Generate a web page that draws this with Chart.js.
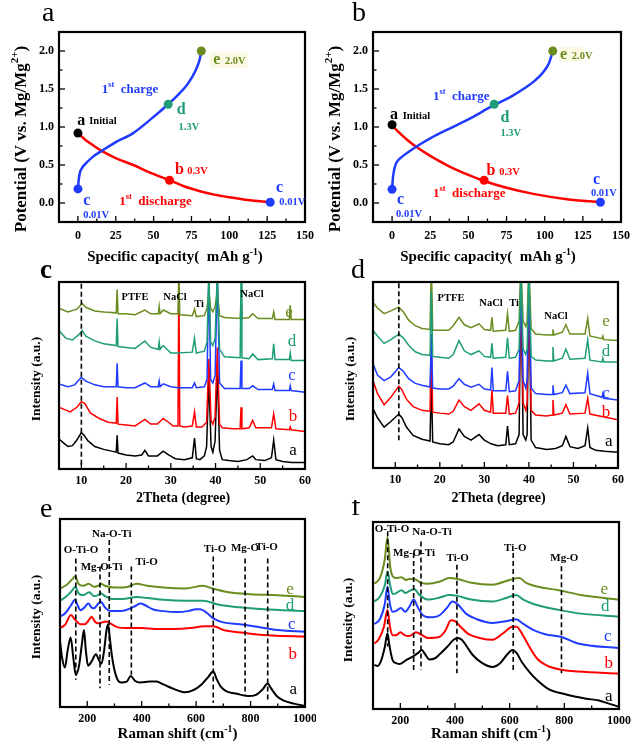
<!DOCTYPE html>
<html><head><meta charset="utf-8">
<script src="https://cdn.jsdelivr.net/npm/chart.js@4/dist/chart.umd.min.js"></script>
<style>
html,body{margin:0;padding:0;background:#fff;}
#wrap{position:relative;width:632px;height:744px;overflow:hidden;background:#fff;}
canvas{position:absolute;}
</style></head><body><div id="wrap"></div>
<script>
const FONT = '"Liberation Serif","Times New Roman",serif';
const COL = {a:'#000000', b:'#ff0000', c:'#1f3bff', d:'#1f9c78', e:'#6b8c1e'};

// ---------- Panel a / b : charge-discharge ----------
const capTicks = [0,25,50,75,100,125,150];
const capMinor = [12.5,37.5,62.5,87.5,112.5,137.5];
const potTicks = [0,0.5,1.0,1.5,2.0];
const potMinor = [0.25,0.75,1.25,1.75];

const a_discharge = [[0,0.92],[5,0.83],[10,0.76],[15.7,0.685],[25,0.59],[36.6,0.50],[47.6,0.40],[60.5,0.30],[70,0.22],[80.6,0.155],[90,0.11],[100,0.075],[112,0.04],[127,0.01]];
const a_charge = [[0,0.185],[0.5,0.30],[1.3,0.40],[3,0.47],[5.7,0.53],[10,0.61],[15.7,0.685],[25,0.80],[36.5,0.92],[48,1.10],[59.6,1.30],[66,1.42],[71.5,1.54],[75.5,1.66],[78.1,1.76],[80.3,1.88],[81.5,2.0]];
const a_marks = [[0,0.92],[60.5,0.30],[127,0.01],[0,0.185],[59.6,1.30],[81.5,2.0]];

const b_discharge = [[0,1.02],[5,0.92],[10,0.83],[15.8,0.74],[25,0.62],[37.7,0.48],[50,0.37],[60.3,0.29],[75,0.20],[92.5,0.12],[114.5,0.05],[136.4,0.01]];
const b_charge = [[0,0.18],[0.5,0.32],[1.2,0.42],[2.6,0.52],[6,0.60],[10,0.66],[15.8,0.74],[25,0.85],[37.7,0.98],[50,1.10],[66.9,1.29],[78,1.40],[86,1.50],[93,1.60],[99,1.72],[103,1.85],[105.3,2.0]];
const b_marks = [[0,1.03],[60.3,0.30],[136.5,0.01],[0,0.18],[66.9,1.30],[105.3,2.0]];
const markColors = [COL.a, COL.b, COL.c, COL.c, COL.d, COL.e];

// ---------- Panel c / d : XRD ----------
const thetaTicks = [10,20,30,40,50,60];
const thetaMinor = [5,15,25,35,45,55];

const c_a = [[5,16],[6,14],[7,12],[8,12.5],[9,15.5],[10,19.5],[10.6,18],[11.5,15],[13,12],[15,10.5],[17.8,9],[18,18],[18.2,8.5],[20,7.5],[22,7],[23.5,7.5],[24.2,10],[25,7],[27,7],[28.3,9.5],[29.5,7.5],[31,5.5],[33,5],[34.8,6],[35.3,16.5],[35.7,5.5],[36.5,5],[37.5,7],[38,12],[38.5,49],[39,12],[39.4,9],[39.9,15],[40.4,54],[40.9,10],[41.5,5],[43,4.5],[45,4],[47,5],[48.3,7],[49,5],[51,4.5],[52.5,6],[53,15.5],[53.5,5],[55,4],[57,3.5],[60,3.5]];
const c_b = [[5,33],[6,32],[7.5,30.5],[9,33],[10,36],[10.8,35],[12,30],[14,27],[16,25],[17.8,24.5],[18,38.5],[18.2,24],[20,23.5],[22,23],[24.2,26.5],[25.5,24],[27,24],[28.3,27],[29.5,25],[30.5,23],[31.6,23],[31.8,105],[32,23],[33,22.5],[34.8,23],[35.3,30.5],[35.7,22.5],[37,22.5],[38,25],[38.5,59],[39,26],[39.4,24],[39.9,28],[40.4,65],[40.9,24],[41.5,22],[44,21.5],[45.5,21.5],[45.7,33],[45.9,21.5],[47.5,22],[48.3,26],[49,22],[52.5,22],[53,29.5],[53.5,21.5],[56.5,21],[56.7,22.5],[56.9,21],[60,20]];
const c_c = [[5,45.5],[7,44],[8.5,45],[10,49],[11,47],[13,45],[15,44],[17.8,44],[18,56.5],[18.2,44],[20,43.5],[22,43.5],[24.2,46],[25.5,44],[27.2,44],[27.4,47],[27.6,44],[28.3,45.5],[30,44],[31.6,43.5],[34.8,43.5],[35.3,46],[35.7,43.5],[37.5,44],[38.1,48],[38.5,105],[38.9,48],[39.4,46],[39.9,50],[40.4,105],[40.9,46],[42,43],[45.5,43],[45.7,58],[45.9,43],[47.5,43],[48.3,44.5],[49.5,42.5],[52.7,42.5],[53,45.5],[53.3,42],[56.5,42],[56.7,44.5],[56.9,42],[60,41]];
const c_d = [[5,74],[6.5,70],[8,69],[9.5,72],[10.2,74],[11,71],[13,68.5],[15,67],[17.8,66],[18,80.5],[18.2,65.5],[20,65],[22,64.5],[24.2,68.5],[25.5,65],[27.2,64],[27.4,68],[27.6,64],[28.3,66],[30,62],[31.6,62],[34.8,62.5],[35.3,70],[35.7,62],[37.5,63],[38.1,68],[38.5,105],[38.9,68],[39.4,66],[39.9,70],[40.4,105],[40.9,64],[42,60],[45.5,59.5],[45.7,105],[45.9,59.5],[47.5,59],[48.3,61.5],[49.5,58.5],[52.7,59],[53,67],[53.3,58.5],[56.5,58.5],[56.7,62],[56.9,58],[60,58]];
const c_e = [[5,86],[7,84],[9,85.5],[10.2,88.5],[11,86.5],[13,84.5],[15,84],[17.8,83.5],[18,96],[18.2,83],[20,83],[22,82.5],[24.2,85],[25.5,83],[27.2,83],[27.4,87],[27.6,83],[28.3,85],[30,83],[31.6,83],[31.8,105],[32,82.5],[34.8,82],[35.3,85.5],[35.7,81.5],[37.5,82],[38.1,86],[38.5,95],[38.9,86],[39.4,84],[39.9,87],[40.4,95],[40.9,82],[42,81],[45.5,80.5],[45.7,88],[45.9,80.5],[47.5,81],[48.3,83],[49.5,80.5],[52.7,80.5],[53,84],[53.3,80],[56.5,80],[56.7,87.5],[56.9,80],[60,80]];

const d_a = [[5,32],[6,27],[7.5,22],[9,25],[10.8,29],[11.5,27],[12.5,22],[14,17.5],[16,15.5],[17.8,14.5],[18.1,48],[18.4,14],[20,13],[22,12.5],[23,14],[24.3,21],[25.5,17],[27,15],[28.8,18],[30,15],[31.5,13],[33,12],[34.8,12.5],[35.2,22.5],[35.6,12.5],[37,13],[37.8,18],[38.2,105],[38.7,18],[39.3,15],[39.6,18],[40.0,105],[40.5,15],[41.5,11],[44,10],[46,10.5],[47.5,12],[48.3,17],[49.2,11.5],[51,10.5],[52.6,12],[53.2,21.5],[53.7,11],[55,9.5],[57,9],[60,8.5]];
const d_b = [[5,47],[6,40],[7.5,34],[9,38],[10.8,44],[11.5,42],[12.5,37],[14,33],[16,31],[17.8,30.5],[18.1,68],[18.4,30],[20,29.5],[22,29],[23,30.5],[24.3,36.5],[25.5,33],[27,31],[28.8,34.5],[30,31],[31.4,30],[31.7,42],[32,29.5],[34.8,29.5],[35.2,39],[35.6,29],[37,29.5],[37.8,35],[38.2,105],[38.7,35],[39.3,31],[39.6,35],[40.0,105],[40.5,31],[41.5,28.5],[44,28],[45.2,28.5],[45.4,36.5],[45.6,28.5],[47.5,29.5],[48.3,34],[49.2,29],[52.6,29.5],[53.2,37.5],[53.7,29],[56.6,27.5],[60,26]];
const d_c = [[5,56],[6,50],[7.5,47],[9,49],[10.8,54],[11.8,52],[13,48],[14.5,45.5],[16,44.5],[17.8,43.5],[18.1,72],[18.4,43],[20,42.5],[22,42.5],[23,44],[24.3,48],[25.5,45],[27,43.5],[28.8,45],[30,42.5],[31.4,42],[31.7,54],[32,41.5],[34.8,41.5],[35.2,52],[35.6,41],[37,41.5],[37.8,47],[38.2,105],[38.7,47],[39.3,43],[39.6,47],[40.0,105],[40.5,43],[41.5,40],[44,39.5],[45.2,39.5],[45.4,44.5],[45.6,39.5],[47.5,40.5],[48.3,44.5],[49.2,40],[52.6,40.5],[53.2,51],[53.7,40],[56.4,38],[56.6,40],[56.8,37.5],[60,36.5]];
const d_d = [[5,74],[6,71],[7.5,67],[9,69],[10.8,72],[11.8,70],[13,66],[14.5,62.5],[16,61],[17.8,60.5],[18.1,95],[18.4,60],[20,59.5],[22,59],[23,61],[24.3,68.5],[25.5,63],[27,61],[28.8,63],[30,60],[31.4,59.5],[31.7,67],[32,59],[34.8,59.5],[35.2,70],[35.6,59],[37,59.5],[37.8,64],[38.2,105],[38.7,64],[39.3,61],[39.6,64],[40.0,105],[40.5,60],[41.5,58],[44,57.5],[45.2,57.5],[45.4,65],[45.6,57.5],[47.5,59],[48.3,64],[49.2,58.5],[52.6,59],[53.2,69],[53.7,58],[56.4,57],[56.6,59],[56.8,57],[60,57]];
const d_e = [[5,89],[6,86],[7.5,83],[9,84.5],[10.8,86.5],[11.8,84],[13,79.5],[14.5,76.5],[16,75],[17.8,74.5],[18.1,110],[18.4,74],[20,74],[22,74],[23,76.5],[24.3,81],[25.5,77],[27,75.5],[28.8,77.5],[30,74.5],[31.4,74],[31.7,81],[32,73.5],[34.8,74],[35.2,83],[35.6,73.5],[37,74],[37.8,79],[38.2,110],[38.7,79],[39.3,76],[39.6,79],[40.0,110],[40.5,75],[41.5,72],[44,71.5],[45.2,71.5],[45.4,74.5],[45.6,71.5],[47.5,73],[48.3,77],[49.2,72],[52.6,72],[53.2,80.5],[53.7,71],[56.4,69.5],[56.6,71],[56.8,69],[60,68.5]];

// ---------- Panel e / f : Raman ----------
const ramanTicks = [200,400,600,800,1000];
const ramanMinor = [100,300,500,700,900];

const e_a = [[100,35],[108,26],[118,21],[128,30],[139,37],[149,26],[158,17],[170,22],[180,33],[188,41],[195,30],[203,22],[215,24],[232,28],[243,25],[252,23],[262,30],[270,40],[276,44],[282,38],[290,28],[298,21],[310,15],[325,13],[345,13.5],[360,16.5],[375,14],[395,13],[430,13.5],[455,13.5],[480,12],[520,9.5],[560,7.8],[590,9],[620,12],[645,16],[663,19],[675,15],[690,11],[710,8.5],[750,7],[790,5.8],[820,6.5],[845,9.5],[863,12.5],[875,10],[895,6],[920,3.5],[960,1.8],[1000,0.5]];
const e_b = [[100,42],[120,44],[140,49],[155,46.5],[175,44],[191,44],[205,46],[216,48],[228,45.5],[240,44.5],[255,45],[270,45.5],[285,44.5],[310,42.5],[350,42],[400,42],[450,41.5],[520,41.5],[580,42],[630,43],[663,43],[700,41],[740,40],[800,39],[880,38],[1000,37.5]];
const e_c = [[100,48],[120,50],[140,54],[155,57],[165,54],[175,51.5],[190,53],[204,55],[215,53],[225,52.5],[238,54.5],[250,56],[265,53],[285,51],[300,51],[340,51.5],[380,54],[395,55],[415,54],[440,52],[480,51],[530,50.5],[570,51],[600,52],[615,52],[640,50],[665,47],[700,45],[760,44],[810,43],[900,41],[1000,40]];
const e_d = [[100,56.5],[125,59],[145,62],[156,64],[168,60.5],[185,59.5],[207,61],[225,59],[240,59.5],[250,60.5],[265,59],[290,57.5],[330,57.5],[381,58.5],[420,58],[480,57],[560,56.5],[626,56.5],[680,54.5],[760,53],[850,52],[1000,51]];
const e_e = [[100,63],[125,65],[145,68],[156,69.5],[168,65.5],[185,64.5],[205,65.5],[225,64],[240,64.5],[250,65.5],[265,64.5],[300,63.5],[350,64],[381,65.5],[420,64.5],[480,63.5],[560,63],[626,64.5],[660,63],[720,61],[800,60],[900,59.5],[1000,58.5]];
const e_bands = [[158,79,14.5],[247,74.7,10],[281,88.8,11.9],[362,74.7,17.2],[663,80,2.1],[780,79,5.7],[863,79,3.9]];

const f_a = [[105,23.5],[117,23],[130,26],[143,33],[153,40.5],[160,34],[172,26],[185,24.5],[196,24],[220,26],[245,28],[265,30],[278,31.5],[292,29],[306,26.5],[325,27],[342,29],[370,33],[395,37],[410,38],[425,37],[445,33],[464,29],[500,24.5],[537,22.5],[565,24.5],[590,29],[610,31.5],[625,30],[645,25],[671,20],[700,15.5],[744,10.5],[800,8],[842,6.5],[880,5.5],[927,4.5],[960,3],[1000,1.2]];
const f_b = [[105,35],[120,37],[140,44],[153,53],[162,44],[172,39.5],[185,39.5],[200,41],[215,39.5],[233,39],[257,41],[280,39.5],[300,38],[342,38.5],[365,42],[385,47.5],[400,47],[420,44],[450,40],[490,38],[537,37],[580,41],[610,44],[625,44],[650,39],[671,33.5],[700,27],[740,23],[790,21],[850,20],[1000,19]];
const f_c = [[105,45.5],[125,48],[143,56],[153,65.5],[162,56],[172,52],[185,52.5],[202,54],[218,52],[232,54.5],[249,58.5],[262,55],[280,50.5],[306,49],[342,50],[370,54],[391,57.5],[410,56],[440,51],[480,48],[537,46],[590,47],[623,48],[650,45.5],[690,42],[730,40],[790,38.5],[850,35],[1000,32.5]];
const f_d = [[105,57.5],[125,60],[143,66],[153,73.5],[163,66],[172,61.5],[185,62],[204,63.5],[220,62],[232,63],[251,64],[270,61],[300,58.5],[342,59.5],[379,61],[410,60.5],[460,58.5],[537,57.5],[590,59.5],[623,61],[650,58.5],[690,56],[780,53],[860,51],[1000,49.5]];
const f_e = [[105,67],[125,70],[143,80],[153,92],[163,76],[172,71],[185,70],[204,70.5],[220,69],[232,69.5],[251,69.5],[275,67.5],[300,67],[342,68],[379,70],[410,69.5],[460,67.5],[537,66.5],[600,69],[635,70],[660,67.5],[700,65.5],[780,63.5],[860,61],[1000,58.5]];
const f_bands = [[153.7,95,33.4],[248.7,83.4,20.9],[275.5,89.6,20.9],[407,77.1,19.1],[613,83.4,20.9],[789.5,76.3,19.1]];

// ---------- helpers ----------
const wrap = document.getElementById('wrap');
function pts(arr){ return arr.map(p=>({x:p[0], y:p[1]})); }
function line(arr, color, lw, order, smooth){
  return {data:pts(arr), borderColor:color, borderWidth:lw, pointRadius:0, fill:false,
          tension: smooth?0.4:0, cubicInterpolationMode: smooth?'monotone':'default', order:order};
}
function marks(arr){
  return {data:pts(arr), showLine:false, pointRadius:4.5, pointBackgroundColor:markColors,
          pointBorderColor:markColors, pointBorderWidth:0, order:-1};
}
function S(t){ return typeof t==='string' ? [[t,'']] : t; }
function T(s,x,y,size,color,o){ return Object.assign({s:S(s),x:x,y:y,size:size,c:color||'#000'}, o||{}); }

function drawRich(ctx, t, x, y){
  const w8 = t.w || 'bold';
  ctx.save();
  ctx.translate(x,y);
  if(t.rot) ctx.rotate(t.rot);
  let tot=0;
  const parts = t.s.map(p=>{
    const sup = p[1]==='sup';
    const fs = sup ? t.size*0.65 : t.size;
    ctx.font = w8+' '+fs+'px '+FONT;
    const m = ctx.measureText(p[0]).width;
    tot += m;
    return {txt:p[0], fs:fs, sup:sup, m:m};
  });
  let cx = t.align==='center' ? -tot/2 : (t.align==='right' ? -tot : 0);
  ctx.fillStyle = t.c;
  ctx.textAlign = 'left';
  ctx.textBaseline = t.base || 'alphabetic';
  parts.forEach(p=>{
    ctx.font = w8+' '+p.fs+'px '+FONT;
    ctx.fillText(p.txt, cx, p.sup ? -t.size*0.42 : 0);
    cx += p.m;
  });
  ctx.restore();
}

function makeDeco(cfg){
  return {
    id:'deco',
    beforeDatasetsDraw(chart){
      const ctx=chart.ctx, xs=chart.scales.x, ys=chart.scales.y;
      (cfg.rects||[]).forEach(r=>{
        const x0=xs.getPixelForValue(r[0]), x1=xs.getPixelForValue(r[1]);
        const y0=ys.getPixelForValue(r[2]), y1=ys.getPixelForValue(r[3]);
        ctx.save(); ctx.fillStyle=r[4]; ctx.fillRect(x0,y0,x1-x0,y1-y0); ctx.restore();
      });
    },
    afterDatasetsDraw(chart){
      const ctx=chart.ctx, ca=chart.chartArea, xs=chart.scales.x, ys=chart.scales.y;
      ctx.save();
      ctx.strokeStyle='#000';
      (cfg.dashes||[]).forEach(d=>{
        const px = xs.getPixelForValue(d[0]);
        ctx.beginPath(); ctx.setLineDash([5,3]); ctx.lineWidth=1.6;
        ctx.moveTo(px, ys.getPixelForValue(d[1])); ctx.lineTo(px, ys.getPixelForValue(d[2])); ctx.stroke();
      });
      ctx.setLineDash([]);
      ctx.lineWidth=1.3;
      const tk = (vals, len, axis)=>{
        (vals||[]).forEach(v=>{
          ctx.beginPath();
          if(axis==='x'){ const p=xs.getPixelForValue(v); ctx.moveTo(p,ca.bottom); ctx.lineTo(p,ca.bottom-len); }
          else { const p=ys.getPixelForValue(v); ctx.moveTo(ca.left,p); ctx.lineTo(ca.left+len,p); }
          ctx.stroke();
        });
      };
      tk(cfg.xMajor,6,'x'); tk(cfg.xMinor,3.5,'x'); tk(cfg.yMajor,6,'y'); tk(cfg.yMinor,3.5,'y');
      ctx.lineWidth=2.2;
      ctx.strokeRect(ca.left, ca.top, ca.right-ca.left, ca.bottom-ca.top);
      ctx.restore();
      (cfg.texts||[]).forEach(t=>{
        let x=t.x, y=t.y;
        if(t.d){ x=xs.getPixelForValue(t.x); y=ys.getPixelForValue(t.y); }
        drawRich(ctx, t, x, y);
      });
    }
  };
}

function panel(rect, area, o){
  const cv=document.createElement('canvas');
  cv.width=rect.w; cv.height=rect.h;
  cv.style.left=rect.l+'px'; cv.style.top=rect.t+'px';
  cv.style.width=rect.w+'px'; cv.style.height=rect.h+'px';
  wrap.appendChild(cv);
  const tickFont={family:FONT, weight:'bold', size:12};
  const noPad = s=>{ s.paddingLeft=0; s.paddingRight=0; s.paddingTop=0; s.paddingBottom=0; };
  return new Chart(cv.getContext('2d'), {
    type:'line',
    data:{datasets:o.datasets},
    options:{
      responsive:false, animation:false, devicePixelRatio:1,
      layout:{padding:{left:0, top:area.t, right:rect.w-area.r, bottom:0}},
      plugins:{legend:{display:false}, tooltip:{enabled:false}},
      scales:{
        x:{type:'linear', min:o.x[0], max:o.x[1],
           grid:{display:false, drawTicks:false}, border:{display:false},
           ticks:{display:true, font:tickFont, color:'#000', padding:o.xPad||6, autoSkip:false, maxRotation:0,
                  callback:v=>String(v)},
           afterBuildTicks:s=>{ s.ticks=o.xTicks.map(v=>({value:v})); },
           afterFit:s=>{ s.height=rect.h-area.b; noPad(s); }},
        y:{type:'linear', min:o.y[0], max:o.y[1],
           grid:{display:false, drawTicks:false}, border:{display:false},
           ticks:{display:!!o.yTicks, font:tickFont, color:'#000', padding:5, autoSkip:false,
                  callback:v=>Number(v).toFixed(1)},
           afterBuildTicks:s=>{ s.ticks=(o.yTicks||[]).map(v=>({value:v})); },
           afterFit:s=>{ s.width=area.l; noPad(s); }}
      }
    },
    plugins:[makeDeco(o.deco)]
  });
}

const ROT = -Math.PI/2;
const potTitle = [['Potential (V vs. Mg/Mg',''],['2+','sup'],[')','']];
const capTitle = [['Specific capacity(  mAh g',''],['-1','sup'],[')','']];
const ramanTitle = [['Raman shift (cm',''],['-1','sup'],[')','']];
const first = (w)=>[['1',''],['st','sup'],['  '+w,'']];

// ---------- Panel a ----------
panel({l:0,t:0,w:316,h:270},{l:59,t:32,r:305,b:222},{
  x:[-12.5,150], y:[-0.25,2.25], xTicks:capTicks, yTicks:potTicks, xPad:7,
  datasets:[ marks(a_marks), line(a_charge,COL.c,2.5,1,true), line(a_discharge,COL.b,2.5,2,true) ],
  deco:{ xMajor:capTicks, xMinor:capMinor, yMajor:potTicks, yMinor:potMinor,
    rects:[[87,112,1.98,1.78,'#fbf8e4']],
    texts:[
      T('a',42,21,28,'#000',{w:'normal'}),
      T(potTitle,22,139,17,'#000',{align:'center',rot:ROT,base:'middle'}),
      T(capTitle,175,261,15,'#000',{align:'center'}),
      T('a',-0.5,1.03,16,COL.a,{d:true}), T('Initial',7.5,1.045,10.5,COL.a,{d:true}),
      T('b',64.1,0.38,16,COL.b,{d:true}), T('0.3V',72.2,0.38,10.5,COL.b,{d:true}),
      T('c',130.9,0.14,16,COL.c,{d:true}), T('0.01V',133,-0.03,10.5,COL.c,{d:true}),
      T('c',3.5,-0.03,16,COL.c,{d:true}), T('0.01V',3.5,-0.2,10.5,COL.c,{d:true}),
      T('d',65.2,1.165,16,COL.d,{d:true}), T('1.3V',66.5,0.967,10.5,COL.d,{d:true}),
      T('e',89.4,1.83,16,COL.e,{d:true}), T('2.0V',97.1,1.83,10.5,COL.e,{d:true}),
      T(first('charge'),15.7,1.45,13,COL.c,{d:true}),
      T(first('discharge'),27.3,-0.02,13,COL.b,{d:true})
    ]}
});

// ---------- Panel b ----------
panel({l:316,t:0,w:316,h:270},{l:57,t:32,r:305,b:222},{
  x:[-12.5,150], y:[-0.25,2.25], xTicks:capTicks, yTicks:potTicks, xPad:7,
  datasets:[ marks(b_marks), line(b_charge,COL.c,2.5,1,true), line(b_discharge,COL.b,2.5,2,true) ],
  deco:{ xMajor:capTicks, xMinor:capMinor, yMajor:potTicks, yMinor:potMinor,
    rects:[[109,125.5,2.05,1.86,'#fbf8e4']],
    texts:[
      T('b',36,21,28,'#000',{w:'normal'}),
      T(potTitle,20,139,17,'#000',{align:'center',rot:ROT,base:'middle'}),
      T(capTitle,172,261,15,'#000',{align:'center'}),
      T('a',-1.3,1.10,16,COL.a,{d:true}), T('Initial',7,1.10,10.5,COL.a,{d:true}),
      T('b',61.8,0.365,16,COL.b,{d:true}), T('0.3V',70.2,0.365,10.5,COL.b,{d:true}),
      T('c',131.6,0.255,16,COL.c,{d:true}), T('0.01V',130.3,0.09,10.5,COL.c,{d:true}),
      T('c',3.3,-0.01,16,COL.c,{d:true}), T('0.01V',2.6,-0.18,10.5,COL.c,{d:true}),
      T('d',71,1.06,16,COL.d,{d:true}), T('1.3V',71,0.88,10.5,COL.d,{d:true}),
      T('e',110,1.89,16,COL.e,{d:true}), T('2.0V',117.8,1.89,10.5,COL.e,{d:true}),
      T(first('charge'),26.8,1.36,13,COL.c,{d:true}),
      T(first('discharge'),26.8,0.08,13,COL.b,{d:true})
    ]}
});

// ---------- Panel c ----------
const xrdLW = 1.5;
panel({l:0,t:250,w:316,h:260},{l:59,t:32,r:305,b:219},{
  x:[5,60], y:[0,100], xTicks:thetaTicks, xPad:5,
  datasets:[ line(c_d,COL.d,xrdLW,0), line(c_e,COL.e,xrdLW,1), line(c_c,COL.c,xrdLW,2), line(c_b,COL.b,xrdLW,3), line(c_a,COL.a,xrdLW,4) ],
  deco:{ xMajor:thetaTicks, xMinor:thetaMinor, dashes:[[10,99,1.2]],
    texts:[
      T('c',40,28,27,'#000',{w:'bold'}),
      T('Intensity (a.u.)',37,129,13.5,'#000',{align:'center',rot:ROT,base:'middle'}),
      T('2Theta (degree)',183,252,14,'#000',{align:'center'}),
      T('PTFE',135,47,10.5,'#000',{align:'center',base:'middle'}),
      T('NaCl',175,47,10.5,'#000',{align:'center',base:'middle'}),
      T('Ti',199,54,10.5,'#000',{align:'center',base:'middle'}),
      T('NaCl',252,44,10.5,'#000',{align:'center',base:'middle'}),
      T('e',289,63,17,COL.e,{w:'normal',align:'center',base:'middle'}),
      T('d',292,92,17,COL.d,{w:'normal',align:'center',base:'middle'}),
      T('c',292,126,17,COL.c,{w:'normal',align:'center',base:'middle'}),
      T('b',293,167,17,COL.b,{w:'normal',align:'center',base:'middle'}),
      T('a',293,201,17,COL.a,{w:'normal',align:'center',base:'middle'})
    ]}
});

// ---------- Panel d ----------
panel({l:316,t:250,w:316,h:260},{l:57,t:32,r:302,b:218},{
  x:[5,60], y:[0,100], xTicks:thetaTicks, xPad:5,
  datasets:[ line(d_d,COL.d,xrdLW,0), line(d_e,COL.e,xrdLW,1), line(d_c,COL.c,xrdLW,2), line(d_b,COL.b,xrdLW,3), line(d_a,COL.a,xrdLW,4) ],
  deco:{ xMajor:thetaTicks, xMinor:thetaMinor, dashes:[[10.8,99.3,14.2]],
    texts:[
      T('d',35,28,28,'#000',{w:'normal'}),
      T('Intensity (a.u.)',35,129,13.5,'#000',{align:'center',rot:ROT,base:'middle'}),
      T('2Theta (degree)',182.5,252,14,'#000',{align:'center'}),
      T('PTFE',135,48,10.5,'#000',{align:'center',base:'middle'}),
      T('NaCl',175,53,10.5,'#000',{align:'center',base:'middle'}),
      T('Ti',198,53,10.5,'#000',{align:'center',base:'middle'}),
      T('NaCl',240,66,10.5,'#000',{align:'center',base:'middle'}),
      T('e',290,72,17,COL.e,{w:'normal',align:'center',base:'middle'}),
      T('d',290,102,17,COL.d,{w:'normal',align:'center',base:'middle'}),
      T('c',290,144,17,COL.c,{w:'normal',align:'center',base:'middle'}),
      T('b',290,163,17,COL.b,{w:'normal',align:'center',base:'middle'}),
      T('a',292.7,192,17,COL.a,{w:'normal',align:'center',base:'middle'})
    ]}
});

// ---------- Panel e ----------
const ramLW = 2;
panel({l:0,t:500,w:316,h:244},{l:60,t:19,r:305,b:207},{
  x:[100,1000], y:[0,100], xTicks:ramanTicks, xPad:5,
  datasets:[ line(e_e,COL.e,ramLW,0,true), line(e_d,COL.d,ramLW,1,true), line(e_c,COL.c,ramLW,2,true), line(e_b,COL.b,ramLW,3,true), line(e_a,COL.a,ramLW,4,true) ],
  deco:{ xMajor:ramanTicks, xMinor:ramanMinor, dashes:e_bands,
    texts:[
      T('e',40,17,28,'#000',{w:'normal'}),
      T('Intensity (a.u.)',37,117,13.5,'#000',{align:'center',rot:ROT,base:'middle'}),
      T(ramanTitle,177.5,238,15,'#000',{align:'center'}),
      T('O-Ti-O',81,50,11,'#000',{align:'center',base:'middle'}),
      T('Na-O-Ti',111.7,34.3,11,'#000',{align:'center',base:'middle'}),
      T('Mg-O-Ti',101.7,66.7,11,'#000',{align:'center',base:'middle'}),
      T('Ti-O',146.7,62,11,'#000',{align:'center',base:'middle'}),
      T('Ti-O',215,49.3,11,'#000',{align:'center',base:'middle'}),
      T('Mg-O',245,48.3,11,'#000',{align:'center',base:'middle'}),
      T('Ti-O',266.7,46.7,11,'#000',{align:'center',base:'middle'}),
      T('e',290,90,17,COL.e,{w:'normal',align:'center',base:'middle'}),
      T('d',290,106,17,COL.d,{w:'normal',align:'center',base:'middle'}),
      T('c',291.7,124.3,17,COL.c,{w:'normal',align:'center',base:'middle'}),
      T('b',292.7,155,17,COL.b,{w:'normal',align:'center',base:'middle'}),
      T('a',293.3,189.3,17,COL.a,{w:'normal',align:'center',base:'middle'})
    ]}
});

// ---------- Panel f ----------
panel({l:316,t:500,w:316,h:244},{l:57,t:22,r:303,b:209},{
  x:[100,1000], y:[0,100], xTicks:ramanTicks, xPad:5,
  datasets:[ line(f_e,COL.e,ramLW,0,true), line(f_d,COL.d,ramLW,1,true), line(f_c,COL.c,ramLW,2,true), line(f_b,COL.b,ramLW,3,true), line(f_a,COL.a,ramLW,4,true) ],
  deco:{ xMajor:ramanTicks, xMinor:ramanMinor, dashes:f_bands,
    texts:[
      T('f',35,15,28,'#000',{w:'normal'}),
      T('Intensity (a.u.)',33,120,13.5,'#000',{align:'center',rot:ROT,base:'middle'}),
      T(ramanTitle,175,238,15,'#000',{align:'center'}),
      T('O-Ti-O',76,29.3,11,'#000',{align:'center',base:'middle'}),
      T('Na-O-Ti',116,32.3,11,'#000',{align:'center',base:'middle'}),
      T('Mg-O-Ti',98,52.7,11,'#000',{align:'center',base:'middle'}),
      T('Ti-O',141.7,58.3,11,'#000',{align:'center',base:'middle'}),
      T('Ti-O',199.3,48.3,11,'#000',{align:'center',base:'middle'}),
      T('Mg-O',248.3,58.3,11,'#000',{align:'center',base:'middle'}),
      T('e',288.3,90,17,COL.e,{w:'normal',align:'center',base:'middle'}),
      T('d',289.3,106.7,17,COL.d,{w:'normal',align:'center',base:'middle'}),
      T('c',291.7,136.7,17,COL.c,{w:'normal',align:'center',base:'middle'}),
      T('b',292.7,164,17,COL.b,{w:'normal',align:'center',base:'middle'}),
      T('a',292.7,196.7,17,COL.a,{w:'normal',align:'center',base:'middle'})
    ]}
});
</script></body></html>
